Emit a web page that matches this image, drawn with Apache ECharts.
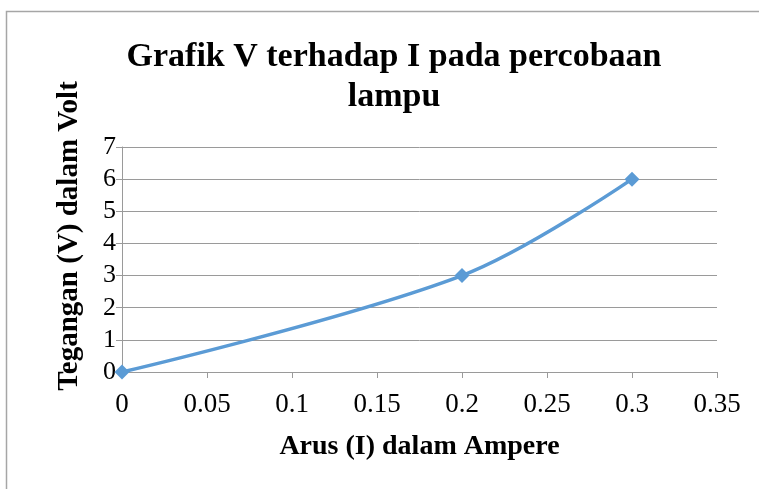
<!DOCTYPE html>
<html><head><meta charset="utf-8">
<script src="https://cdn.jsdelivr.net/npm/echarts@6/dist/echarts.min.js"></script>
<style>html,body{margin:0;padding:0;background:#fff}#c{width:759px;height:489px}</style>
</head><body><div id="c"></div>
<script>
const currentA = [0, 0.2, 0.3];
const voltageV = [0, 3, 6];
const xTicks = [0, 0.05, 0.1, 0.15, 0.2, 0.25, 0.3, 0.35];
const yTicks = [0, 1, 2, 3, 4, 5, 6, 7];
const titleText = 'Grafik V terhadap I pada percobaan\nlampu';
const xName = 'Arus (I) dalam Ampere';
const yName = 'Tegangan (V) dalam Volt';

const serif = 'Liberation Serif';
const chart = echarts.init(document.getElementById('c'));
chart.setOption({
  animation: false,
  title: {
    text: titleText, left: 389, top: 32, textAlign: 'center',
    textStyle: {fontFamily: serif, fontWeight: 'bold', fontSize: 34, color: '#000', lineHeight: 40}
  },
  grid: {left: 122, right: 42, top: 147, bottom: 117},
  xAxis: {
    type: 'value', min: xTicks[0], max: xTicks[xTicks.length-1], interval: 0.05,
    name: xName, nameLocation: 'middle', nameGap: 61,
    nameTextStyle: {fontFamily: serif, fontWeight: 'bold', fontSize: 28, color: '#000'},
    axisLine: {lineStyle: {color: '#9a9a9a', width: 1}},
    axisTick: {show: true, length: 6, lineStyle: {color: '#9a9a9a'}},
    axisLabel: {fontFamily: serif, fontSize: 27, color: '#000', margin: 19},
    splitLine: {show: false}
  },
  yAxis: {
    type: 'value', min: yTicks[0], max: yTicks[yTicks.length-1], interval: 1,
    axisLine: {show: true, lineStyle: {color: '#9a9a9a', width: 1}},
    axisTick: {show: true, length: 6, lineStyle: {color: '#9a9a9a'}},
    axisLabel: {fontFamily: serif, fontSize: 26, color: '#000', margin: 6},
    splitLine: {show: true, lineStyle: {color: '#9a9a9a', width: 1}}
  },
  graphic: [
    {type: 'rect', shape: {x: 6.5, y: 11.5, width: 800, height: 600}, style: {fill: 'none', stroke: '#a6a6a6', lineWidth: 1.5}, silent: true},
    {type: 'text', x: 70, y: 236, rotation: Math.PI/2, style: {text: yName, font: 'bold 29px "Liberation Serif"', fill: '#000', textAlign: 'center', textVerticalAlign: 'middle'}}
  ],
  series: [{
    type: 'line', smooth: 0.35,
    data: currentA.map((x, i) => [x, voltageV[i]]),
    symbol: 'diamond', symbolSize: 15,
    lineStyle: {color: '#5b9bd5', width: 3.5},
    itemStyle: {color: '#5b9bd5'}
  }]
});
</script></body></html>
